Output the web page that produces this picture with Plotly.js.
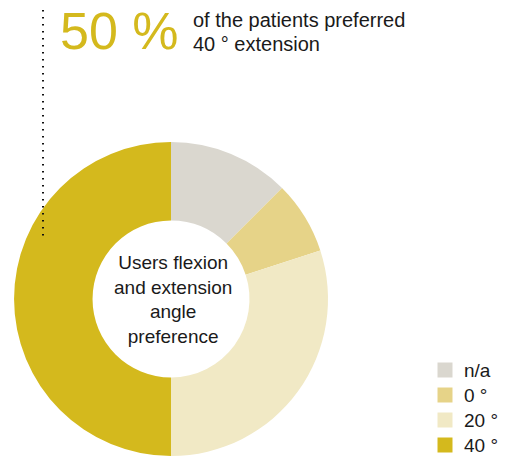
<!DOCTYPE html>
<html>
<head>
<meta charset="utf-8">
<script src="https://cdn.plot.ly/plotly-3.0.1.min.js"></script>
<style>html,body{margin:0;padding:0;background:#fff;}#chart{width:510px;height:458px;}</style>
</head>
<body>
<div id="chart"></div>
<script>
const labels = ["n/a", "0 °", "20 °", "40 °"];
const values = [12.5, 7.5, 30, 50];
const colors = ["#dad7cf", "#e6d388", "#f1e9c5", "#d4b91d"];
const centerTitle = ["Users flexion", "and extension", "angle", "preference"];
const highlightIndex = 3;
const highlightText = ["of the patients preferred", "40 ° extension"];

const W = 510, H = 458;
const font = "Liberation Sans, Arial, Helvetica, sans-serif";
const textColor = "#1a1a1a";
const total = values.reduce((a, b) => a + b, 0);
const pct = Math.round(values[highlightIndex] / total * 100);
const px = v => v / W;
const py = v => 1 - v / H;

const trace = {
  type: "pie",
  labels: labels,
  values: values,
  marker: {colors: colors, line: {width: 0}},
  hole: 0.5,
  sort: false,
  direction: "clockwise",
  rotation: 0,
  textinfo: "none",
  hoverinfo: "none",
  showlegend: false,
  domain: {x: [px(14), px(328)], y: [py(456), py(142)]}
};

const annotations = [
  {text: pct + " %", xref: "paper", yref: "paper", x: px(58), y: py(31),
   xanchor: "left", yanchor: "middle", showarrow: false,
   font: {family: font, size: 52, color: "#d4b91d"}},
  {text: centerTitle.join("<br>"), xref: "paper", yref: "paper", x: px(173), y: py(299),
   xanchor: "center", yanchor: "middle", align: "center", showarrow: false,
   font: {family: font, size: 19, color: textColor}}
];
highlightText.forEach((t, i) => {
  annotations.push({text: t, xref: "paper", yref: "paper", x: px(191), y: py(20 + 24.5 * i),
    xanchor: "left", yanchor: "middle", showarrow: false,
    font: {family: font, size: 20, color: textColor}});
});

const shapes = [
  {type: "line", xref: "paper", yref: "paper", x0: px(43), x1: px(43), y0: py(10), y1: py(241),
   line: {color: "#111", width: 2, dash: "1.5px,5.5px"}}
];

// custom legend built from labels and colors
labels.forEach((lab, i) => {
  const cy = 370 + 25 * i;
  shapes.push({type: "rect", xref: "paper", yref: "paper",
    x0: px(437.5), x1: px(452.5), y0: py(cy + 7.5), y1: py(cy - 7.5),
    fillcolor: colors[i], line: {width: 0}});
  annotations.push({text: lab, xref: "paper", yref: "paper", x: px(462), y: py(cy),
    xanchor: "left", yanchor: "middle", showarrow: false,
    font: {family: font, size: 19, color: textColor}});
});

const layout = {
  width: W, height: H,
  margin: {l: 0, r: 0, t: 0, b: 0},
  paper_bgcolor: "#fff",
  plot_bgcolor: "#fff",
  font: {family: font, color: textColor},
  showlegend: false,
  annotations: annotations,
  shapes: shapes
};

Plotly.newPlot("chart", [trace], layout, {displayModeBar: false, staticPlot: true});
</script>
</body>
</html>
